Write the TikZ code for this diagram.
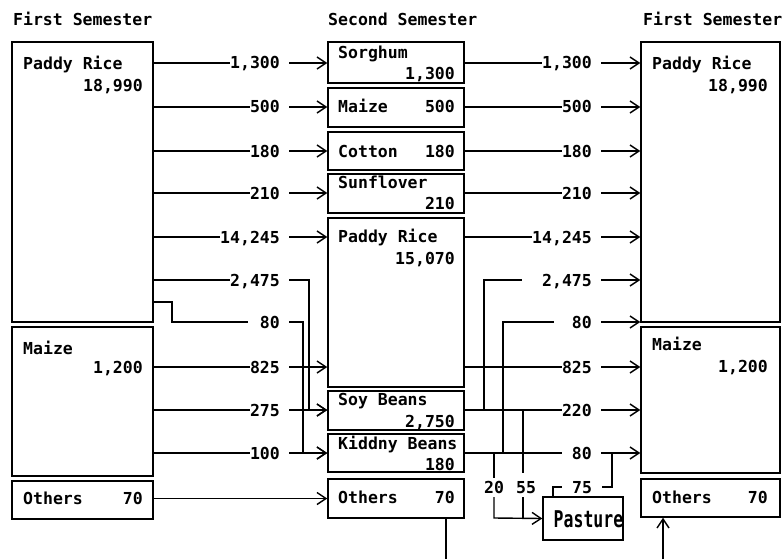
\documentclass[tikz,border=0pt]{standalone}
\usepackage{fontspec}
\setmonofont{DejaVu Sans Mono}
\usetikzlibrary{arrows.meta,fit}

\begin{document}
\begin{tikzpicture}[
    x=1pt, y=-1pt,
    crop/.style={draw, line width=1.5pt, inner sep=0pt},
    txt/.style={font=\ttfamily\bfseries\fontsize{16.5}{18}\selectfont, inner sep=0pt, text height=12pt, text depth=0pt},
    cropname/.style={txt, anchor=west},
    qty/.style={txt, anchor=east},
    flow/.style={line width=1.4pt},
    into/.style={flow, -{Straight Barb[length=9pt, width=12pt, line width=1.4pt]}},
]
\useasboundingbox (0,0) rectangle (783,559);

% column titles
\node[cropname] (t1) at (13,20)  {First Semester};
\node[cropname] (t2) at (328,20) {Second Semester};
\node[cropname] (t3) at (643,20) {First Semester};

% first semester (left)
\node[crop, fit={(12,42) (153,322)}]  (lpaddy)  {};
\node[crop, fit={(12,327) (153,476)}] (lmaize)  {};
\node[crop, fit={(12,481) (153,519)}] (lothers) {};
\node[cropname] (lpaddyA)  at (23,63.5) {Paddy Rice};
\node[qty]      (lpaddyB)  at (143,86)  {18,990};
\node[cropname] (lmaizeA)  at (23,348)  {Maize};
\node[qty]      (lmaizeB)  at (143,367) {1,200};
\node[cropname] (lothersA) at (23,498)  {Others};
\node[qty]      (lothersB) at (143,498) {70};

% second semester (middle)
\node[crop, fit={(328,42) (464,83)}]   (sorghum)   {};
\node[crop, fit={(328,88) (464,127)}]  (mmaize)    {};
\node[crop, fit={(328,132) (464,170)}] (cotton)    {};
\node[crop, fit={(328,174) (464,213)}] (sunflower) {};
\node[crop, fit={(328,218) (464,387)}] (mpaddy)    {};
\node[crop, fit={(328,391) (464,430)}] (soy)       {};
\node[crop, fit={(328,434) (464,472)}] (kiddny)    {};
\node[crop, fit={(328,479) (464,518)}] (mothers)   {};
\node[cropname] (sorghumA)   at (338,53)  {Sorghum};
\node[qty]      (sorghumB)   at (455,74)  {1,300};
\node[cropname] (mmaizeA)    at (338,107) {Maize};
\node[qty]      (mmaizeB)    at (455,107) {500};
\node[cropname] (cottonA)    at (338,151) {Cotton};
\node[qty]      (cottonB)    at (455,151) {180};
\node[cropname] (sunflowerA) at (338,182) {Sunflover};
\node[qty]      (sunflowerB) at (455,203) {210};
\node[cropname] (mpaddyA)    at (338,236) {Paddy Rice};
\node[qty]      (mpaddyB)    at (455,258) {15,070};
\node[cropname] (soyA)       at (338,399) {Soy Beans};
\node[qty]      (soyB)       at (455,421) {2,750};
\node[cropname] (kiddnyA)    at (338,443) {Kiddny Beans};
\node[qty]      (kiddnyB)    at (455,464) {180};
\node[cropname] (mothersA)   at (338,497) {Others};
\node[qty]      (mothersB)   at (455,497) {70};

% first semester (right)
\node[crop, fit={(641,42) (780,322)}]  (rpaddy)  {};
\node[crop, fit={(641,327) (780,473)}] (rmaize)  {};
\node[crop, fit={(641,479) (780,517)}] (rothers) {};
\node[cropname] (rpaddyA)  at (652,63.5) {Paddy Rice};
\node[qty]      (rpaddyB)  at (768,86)   {18,990};
\node[cropname] (rmaizeA)  at (652,344)  {Maize};
\node[qty]      (rmaizeB)  at (768,366)  {1,200};
\node[cropname] (rothersA) at (652,497)  {Others};
\node[qty]      (rothersB) at (768,497)  {70};

% pasture
\node[crop, fit={(543,497) (623,540)}] (pasture) {};
\node[txt, text height=17pt] (pastureA) at (588.5,518.5) {\scalebox{1}[1.4]{Pasture}};

% flows first -> second semester
\node[qty] (l1)  at (280,63)  {1,300};
\node[qty] (l2)  at (280,107) {500};
\node[qty] (l3)  at (280,151) {180};
\node[qty] (l4)  at (280,193) {210};
\node[qty] (l5)  at (280,237) {14,245};
\node[qty] (l6)  at (280,280) {2,475};
\node[qty] (l7)  at (280,322) {80};
\node[qty] (l8)  at (280,367) {825};
\node[qty] (l9)  at (280,410) {275};
\node[qty] (l10) at (280,453) {100};
\draw[flow] (lpaddy.east |- l1) -- (l1.west);
\draw[into] ([xshift=9pt]l1.east) -- (sorghum.west |- l1);
\draw[flow] (lpaddy.east |- l2) -- (l2.west);
\draw[into] ([xshift=9pt]l2.east) -- (mmaize.west |- l2);
\draw[flow] (lpaddy.east |- l3) -- (l3.west);
\draw[into] ([xshift=9pt]l3.east) -- (cotton.west |- l3);
\draw[flow] (lpaddy.east |- l4) -- (l4.west);
\draw[into] ([xshift=9pt]l4.east) -- (sunflower.west |- l4);
\draw[flow] (lpaddy.east |- l5) -- (l5.west);
\draw[into] ([xshift=9pt]l5.east) -- (mpaddy.west |- l5);
\draw[flow] (lpaddy.east |- l6) -- (l6.west);
\draw[into] ([xshift=9pt]l6.east) -- (309,280) |- (soy.west |- l9);
\draw[flow] (153,302) -- (172,302) |- ([xshift=-12pt]l7.west);
\draw[into] ([xshift=9pt]l7.east) -- (303,322) |- (kiddny.west |- l10);
\draw[flow] (lmaize.east |- l8) -- (l8.west);
\draw[into] ([xshift=9pt]l8.east) -- (mpaddy.west |- l8);
\draw[flow] (lmaize.east |- l9) -- (l9.west);
\draw[into] ([xshift=9pt]l9.east) -- (soy.west |- l9);
\draw[flow] (lmaize.east |- l10) -- (l10.west);
\draw[into] ([xshift=9pt]l10.east) -- (kiddny.west |- l10);
\draw[into] (lothers.east |- mothers) -- (mothers.west);

% flows second -> first semester
\node[qty] (r1)  at (592,63)  {1,300};
\node[qty] (r2)  at (592,107) {500};
\node[qty] (r3)  at (592,151) {180};
\node[qty] (r4)  at (592,193) {210};
\node[qty] (r5)  at (592,237) {14,245};
\node[qty] (r6)  at (592,280) {2,475};
\node[qty] (r7)  at (592,322) {80};
\node[qty] (r8)  at (592,367) {825};
\node[qty] (r9)  at (592,410) {220};
\node[qty] (r10) at (592,453) {80};
\draw[flow] (sorghum.east |- r1) -- (r1.west);
\draw[into] ([xshift=9pt]r1.east) -- (rpaddy.west |- r1);
\draw[flow] (mmaize.east |- r2) -- (r2.west);
\draw[into] ([xshift=9pt]r2.east) -- (rpaddy.west |- r2);
\draw[flow] (cotton.east |- r3) -- (r3.west);
\draw[into] ([xshift=9pt]r3.east) -- (rpaddy.west |- r3);
\draw[flow] (sunflower.east |- r4) -- (r4.west);
\draw[into] ([xshift=9pt]r4.east) -- (rpaddy.west |- r4);
\draw[flow] (mpaddy.east |- r5) -- (r5.west);
\draw[into] ([xshift=9pt]r5.east) -- (rpaddy.west |- r5);
\draw[flow] (soy.east |- r9) -- (484,410) |- ([xshift=-20pt]r6.west);
\draw[into] ([xshift=9pt]r6.east) -- (rpaddy.west |- r6);
\draw[flow] (kiddny.east |- r10) -- (503,453) |- ([xshift=-18pt]r7.west);
\draw[into] ([xshift=9pt]r7.east) -- (rpaddy.west |- r7);
\draw[flow] (mpaddy.east |- r8) -- (r8.west);
\draw[into] ([xshift=9pt]r8.east) -- (rmaize.west |- r8);
\draw[flow] (soy.east |- r9) -- (r9.west);
\draw[into] ([xshift=9pt]r9.east) -- (rmaize.west |- r9);
\draw[flow] (kiddny.east |- r10) -- ([xshift=-10pt]r10.west);
\draw[into] ([xshift=9pt]r10.east) -- (rmaize.west |- r10);

% to and from pasture
\node[txt] (p20) at (494,487) {20};
\node[txt] (p55) at (526,487) {55};
\node[txt] (p75) at (582,487) {75};
\draw[flow] (494,453) -- ([yshift=3pt]p20.north);
\draw[into] ([yshift=-4pt]p20.south) -- (494,518) -- (pasture.west);
\draw[flow] (523,410) -- (523,473);
\draw[flow] (523,497) -- (523,518);
\draw[flow] (pasture.north -| 553,0) -- (553,487) -- ([xshift=-10pt]p75.west);
\draw[flow] ([xshift=10pt]p75.east) -- (612,487) -- (612,453);

% others carried over below the chart
\coordinate (mout) at (446,559);
\coordinate (rin)  at (663,559);
\draw[flow] (mothers.south -| mout) -- (mout);
\draw[into] (rin) -- (rothers.south -| rin);
\end{tikzpicture}
\end{document}
